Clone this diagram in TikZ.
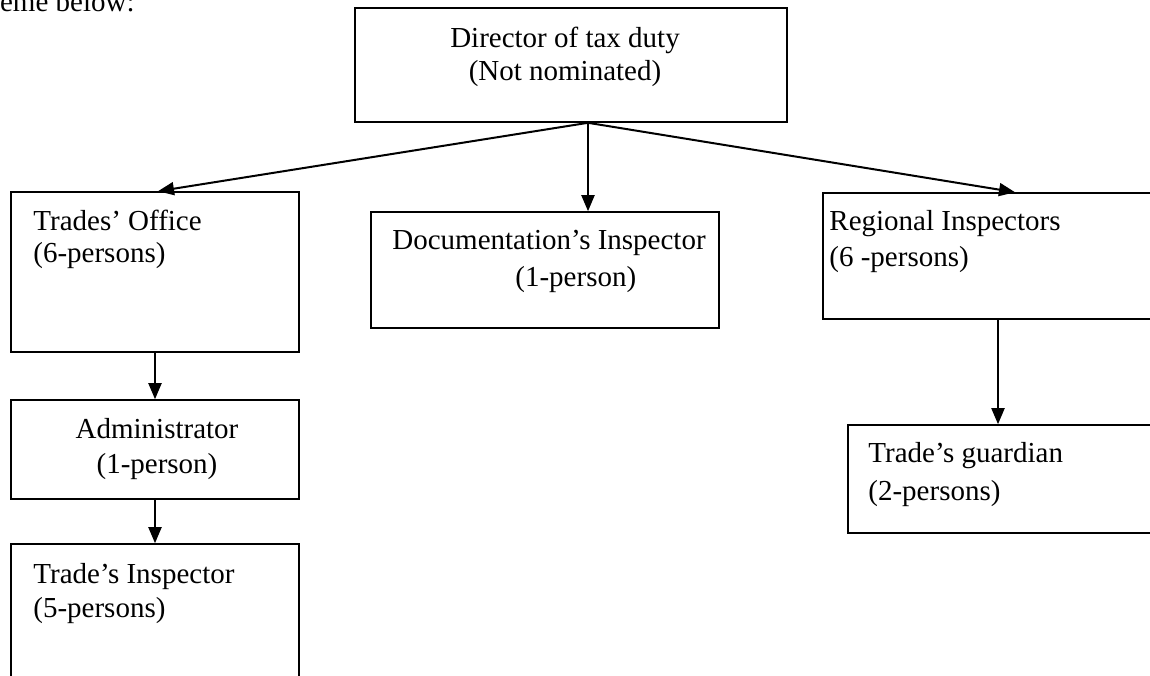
\documentclass[tikz,border=0pt]{standalone}
\usepackage{fontspec}
\setmainfont{Liberation Serif}
\usetikzlibrary{positioning, calc, arrows.meta}
\tikzset{
  box/.style={draw,line width=0.8pt,inner sep=0pt},
  lbl/.style={inner sep=0pt,font=\fontsize{14.5}{16}\selectfont},
}
\begin{document}
\begin{tikzpicture}[x=0.5pt,y=-0.5pt,>={Triangle[length=8pt,width=6.5pt]}]
      \useasboundingbox (0,0) rectangle (1150,675);
      \clip (0,0) rectangle (1150,675);
      % boxes
      \node[box,minimum width=216pt,minimum height=57pt] (dir) at (571,65) {};
      \node[box,minimum width=144pt,minimum height=80pt] (trades) at (155,272) {};
      \node[box,minimum width=174pt,minimum height=58pt] (doc) at (545,270) {};
      \node[box,minimum width=192pt,minimum height=63pt] (reg) at (1015,256) {};
      \node[box,minimum width=144pt,minimum height=49.5pt] (admin) at (155,449.5) {};
      \node[box,minimum width=144pt,minimum height=80pt] (insp) at (155,624) {};
      \node[box,minimum width=160pt,minimum height=54pt] (guard) at (1008,479) {};
      % texts
      \node[lbl,anchor=base east] (head) at (135,11) {scheme below:};
      \node[lbl,anchor=north,align=center] (dirtxt) at (565,27) {Director of tax duty\\[0.5pt](Not nominated)};
      \node[lbl,anchor=north west,align=left] (tradestxt) at (33,210) {Trades’ Office\\(6-persons)};
      \node[lbl,anchor=north west,align=left] (doctxt) at (392,230) {Documentation’s Inspector\\[2.5pt]\hspace*{61.5pt}(1-person)};
      \node[lbl,anchor=north west,align=left] (regtxt) at (829,210) {Regional Inspectors\\[2pt](6 -persons)};
      \node[lbl,anchor=north,align=center] (admintxt) at (157,418) {Administrator\\[1.5pt](1-person)};
      \node[lbl,anchor=north west,align=left] (insptxt) at (33,563) {Trade’s Inspector\\[1pt](5-persons)};
      \node[lbl,anchor=north west,align=left] (guardtxt) at (868,442) {Trade’s guardian\\[3pt](2-persons)};
      % arrows
      \coordinate (root) at ($(dir.south)+(8.5pt,0)$);
      \coordinate (drop) at ($(reg.south)+(-8.5pt,0)$);
      \draw[->,line width=1pt] (root)--([xshift=1.5pt]trades.north);
      \draw[->,line width=1pt] (root)--(root |- doc.north);
      \draw[->,line width=1pt] (root)--(reg.north);
      \draw[->,line width=1pt] (trades.south)--(admin.north);
      \draw[->,line width=1pt] (admin.south)--(insp.north);
      \draw[->,line width=1pt] (drop)--(drop |- guard.north);
\end{tikzpicture}
\end{document}
